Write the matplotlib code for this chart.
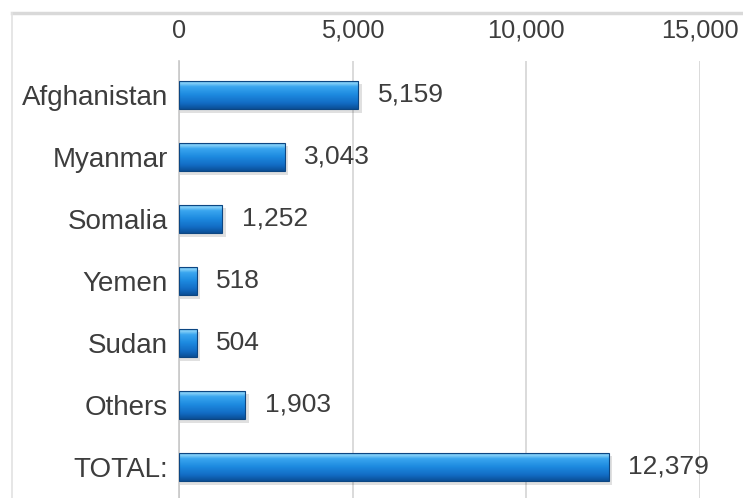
import numpy as np
import matplotlib
matplotlib.use('Agg')
import matplotlib.pyplot as plt
from matplotlib.colors import LinearSegmentedColormap
from matplotlib.lines import Line2D

# Data
countries = ['Afghanistan', 'Myanmar', 'Somalia', 'Yemen', 'Sudan', 'Others', 'TOTAL:']
values = [5159, 3043, 1252, 518, 504, 1903, 12379]
xticks = [0, 5000, 10000, 15000]

plt.rcParams['font.family'] = ['Liberation Sans', 'DejaVu Sans']
txt_col = '#3d3d3d'

fig = plt.figure(figsize=(7.43, 4.98), dpi=100)
ax = fig.add_axes([179 / 743, -0.006, 521 / 743, 0.884])

ypos = np.arange(len(countries))
bar_h = 0.46

# gradient for the glossy bar look
grad = LinearSegmentedColormap.from_list('bar', [
    (0.0, '#0b4f96'), (0.2, '#126cc4'), (0.5, '#1d8ae0'),
    (0.78, '#3aa6ef'), (0.9, '#86d0f8'), (1.0, '#3a9ae0')])
g = np.linspace(0, 1, 64).reshape(-1, 1)

bars = ax.barh(ypos, values, height=bar_h, color='none', edgecolor='#0c4682',
               linewidth=0.8, zorder=3)
for b, v in zip(bars, values):
    y0 = b.get_y()
    # soft shadow
    ax.barh(y0 + bar_h / 2 + 0.06, v + 60, height=bar_h, left=40,
            color='#000000', alpha=0.12, zorder=2, linewidth=0)
    im = ax.imshow(g, cmap=grad, aspect='auto', origin='lower',
                   extent=(0, v, y0 + bar_h, y0), zorder=2.5)
    im.set_clip_path(b)
    ax.text(v + 560, y0 + bar_h / 2, f'{v:,}', va='center', ha='left',
            fontsize=19, color=txt_col)

ax.set_xlim(0, 15000)
ax.set_ylim(len(countries) - 0.45, -0.55)
ax.set_yticks(ypos)
ax.set_yticklabels(countries, fontsize=20, color=txt_col)
ax.set_xticks(xticks)
ax.set_xticklabels([f'{t:,}' for t in xticks], fontsize=18.3, color=txt_col)
ax.xaxis.tick_top()
ax.tick_params(axis='y', length=0, pad=8)
ax.tick_params(axis='x', length=0, pad=13)
ax.grid(axis='x', color='#d4d4d4', linewidth=1.2, zorder=0)
ax.set_axisbelow(True)
for s in ['top', 'right', 'bottom']:
    ax.spines[s].set_visible(False)
ax.spines['left'].set_color('#c8c8c8')
ax.spines['left'].set_linewidth(1.2)
ax.set_facecolor('white')

# outer frame of the chart area
fig.add_artist(Line2D([12 / 743, 1], [1 - 13 / 498, 1 - 13 / 498],
                      color='#d9d9d9', linewidth=2.5, transform=fig.transFigure))
fig.add_artist(Line2D([12 / 743, 12 / 743], [0, 1 - 13 / 498],
                      color='#e2e2e2', linewidth=1.2, transform=fig.transFigure))

fig.savefig('out.png', dpi=100)
